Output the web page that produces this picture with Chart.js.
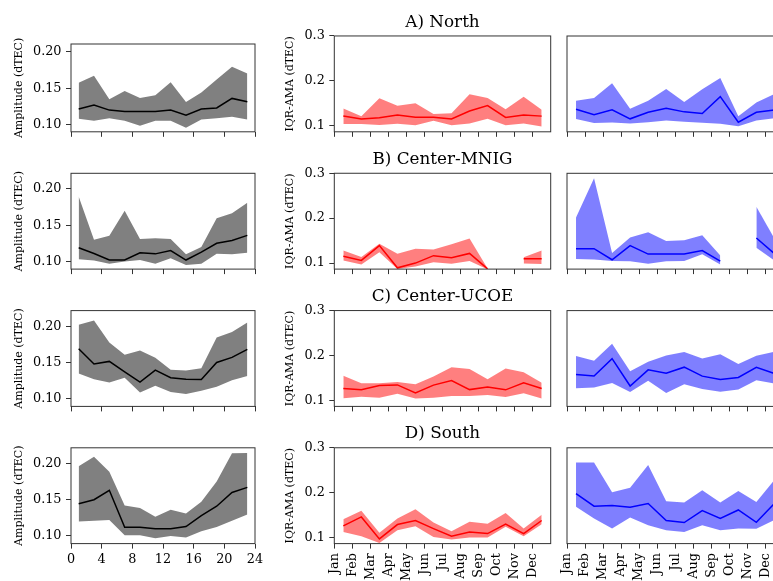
<!DOCTYPE html>
<html>
<head>
<meta charset="utf-8">
<title>Amplitude / IQR-AMA by region</title>
<script src="https://cdn.jsdelivr.net/npm/chart.js@4.4.0/dist/chart.umd.min.js"></script>
<style>
html, body { margin: 0; padding: 0; background: #fff; overflow: hidden; }
#fig { position: relative; width: 773px; height: 581px; overflow: hidden; }
#fig canvas { position: absolute; left: 0; top: 0; }
</style>
</head>
<body>
<div id="fig"></div>
<script>
// --- axes / categories ---
const hours = [1, 3, 5, 7, 9, 11, 13, 15, 17, 19, 21, 23];
const hourTicks = [0, 4, 8, 12, 16, 20, 24];
const monthPos = [0.5, 1.5, 2.5, 3.5, 4.5, 5.5, 6.5, 7.5, 8.5, 9.5, 10.5, 11.5];
const monthTicks = [0, 1, 2, 3, 4, 5, 6, 7, 8, 9, 10, 11];
const monthLabels = ['Jan', 'Feb', 'Mar', 'Apr', 'May', 'Jun', 'Jul', 'Aug', 'Sep', 'Oct', 'Nov', 'Dec'];
const ampTicks = [0.10, 0.15, 0.20];
const iqrTicks = [0.1, 0.2, 0.3];
const regionTitles = ['A) North', 'B) Center-MNIG', 'C) Center-UCOE', 'D) South'];

// --- A) North ---
const northAmpMed = [0.1215, 0.127, 0.120, 0.118, 0.118, 0.118, 0.120, 0.113, 0.1215, 0.123, 0.136, 0.1315];
const northAmpLo  = [0.108, 0.1055, 0.109, 0.1055, 0.0985, 0.1055, 0.1055, 0.096, 0.107, 0.109, 0.111, 0.107];
const northAmpHi  = [0.1575, 0.167, 0.135, 0.146, 0.1365, 0.1405, 0.158, 0.131, 0.144, 0.162, 0.1795, 0.170];
const northRedMed = [0.122, 0.115, 0.118, 0.124, 0.119, 0.119, 0.115, 0.133, 0.145, 0.1185, 0.124, 0.1215];
const northRedLo  = [0.104, 0.104, 0.1015, 0.1045, 0.101, 0.111, 0.101, 0.105, 0.1155, 0.101, 0.105, 0.0985];
const northRedHi  = [0.1385, 0.121, 0.1615, 0.1445, 0.150, 0.1265, 0.128, 0.170, 0.162, 0.137, 0.1645, 0.1355];
const northBlueMed = [0.137, 0.1245, 0.1355, 0.1155, 0.130, 0.139, 0.131, 0.1275, 0.165, 0.108, 0.130, 0.135];
const northBlueLo  = [0.115, 0.106, 0.1075, 0.105, 0.108, 0.112, 0.109, 0.1065, 0.1045, 0.099, 0.112, 0.117];
const northBlueHi  = [0.1555, 0.162, 0.195, 0.138, 0.156, 0.182, 0.153, 0.1815, 0.2065, 0.121, 0.152, 0.171];

// --- B) Center-MNIG ---
const mnigAmpMed = [0.119, 0.111, 0.102, 0.102, 0.112, 0.1105, 0.115, 0.102, 0.113, 0.125, 0.129, 0.136];
const mnigAmpLo  = [0.103, 0.1015, 0.097, 0.100, 0.102, 0.097, 0.1045, 0.095, 0.097, 0.1105, 0.110, 0.112];
const mnigAmpHi  = [0.1895, 0.130, 0.1355, 0.170, 0.131, 0.132, 0.131, 0.110, 0.120, 0.1595, 0.1665, 0.181];
const mnigRedMed = [0.115, 0.106, 0.139, 0.0895, 0.100, 0.1165, 0.112, 0.1215, 0.087, null, 0.1095, 0.1095];
const mnigRedLo  = [0.106, 0.097, 0.124, 0.087, 0.0925, 0.102, 0.0985, 0.1045, 0.086, null, 0.099, 0.098];
const mnigRedHi  = [0.128, 0.1135, 0.143, 0.121, 0.132, 0.130, 0.142, 0.1545, 0.088, null, 0.113, 0.128];
const mnigBlueMed = [0.132, 0.132, 0.1075, 0.139, 0.120, 0.120, 0.120, 0.128, 0.1045, null, 0.156, 0.121];
const mnigBlueLo  = [0.109, 0.108, 0.1045, 0.104, 0.0985, 0.104, 0.1045, 0.1195, 0.097, null, 0.134, 0.106];
const mnigBlueHi  = [0.2015, 0.289, 0.1225, 0.157, 0.1685, 0.149, 0.151, 0.162, 0.117, null, 0.2255, 0.155];

// --- C) Center-UCOE ---
const ucoeAmpMed = [0.169, 0.148, 0.1515, 0.137, 0.123, 0.1395, 0.129, 0.127, 0.1265, 0.150, 0.157, 0.168];
const ucoeAmpLo  = [0.135, 0.127, 0.1225, 0.129, 0.1085, 0.118, 0.1095, 0.1065, 0.111, 0.1165, 0.1255, 0.1315];
const ucoeAmpHi  = [0.202, 0.208, 0.1775, 0.1605, 0.1665, 0.1565, 0.140, 0.139, 0.142, 0.1845, 0.192, 0.205];
const ucoeRedMed = [0.1265, 0.1235, 0.133, 0.1345, 0.1165, 0.134, 0.144, 0.124, 0.130, 0.1235, 0.139, 0.1265];
const ucoeRedLo  = [0.1045, 0.108, 0.106, 0.115, 0.104, 0.106, 0.110, 0.110, 0.112, 0.1075, 0.116, 0.104];
const ucoeRedHi  = [0.155, 0.138, 0.138, 0.141, 0.136, 0.153, 0.174, 0.170, 0.147, 0.171, 0.1625, 0.139];
const ucoeBlueMed = [0.1575, 0.1545, 0.193, 0.132, 0.168, 0.1605, 0.174, 0.154, 0.1465, 0.151, 0.1735, 0.160];
const ucoeBlueLo  = [0.127, 0.1285, 0.139, 0.1185, 0.1435, 0.1165, 0.136, 0.1255, 0.1195, 0.124, 0.145, 0.1375];
const ucoeBlueHi  = [0.199, 0.1885, 0.226, 0.165, 0.186, 0.200, 0.208, 0.1935, 0.2025, 0.181, 0.1995, 0.2085];

// --- D) South ---
const southAmpMed = [0.1445, 0.150, 0.163, 0.112, 0.112, 0.110, 0.110, 0.113, 0.128, 0.141, 0.160, 0.167];
const southAmpLo  = [0.120, 0.121, 0.122, 0.101, 0.101, 0.097, 0.100, 0.098, 0.1065, 0.1125, 0.121, 0.1295];
const southAmpHi  = [0.196, 0.209, 0.1885, 0.142, 0.1385, 0.1265, 0.136, 0.131, 0.147, 0.175, 0.214, 0.2145];
const southRedMed = [0.126, 0.146, 0.097, 0.129, 0.138, 0.120, 0.103, 0.1125, 0.109, 0.130, 0.109, 0.138];
const southRedLo  = [0.1125, 0.103, 0.088, 0.1165, 0.125, 0.1015, 0.0955, 0.100, 0.100, 0.124, 0.103, 0.1295];
const southRedHi  = [0.141, 0.1595, 0.1105, 0.1425, 0.163, 0.1335, 0.114, 0.135, 0.131, 0.155, 0.120, 0.151];
const southBlueMed = [0.198, 0.170, 0.1715, 0.1675, 0.176, 0.138, 0.1335, 0.160, 0.1425, 0.1615, 0.134, 0.176];
const southBlueLo  = [0.1685, 0.1425, 0.120, 0.1445, 0.1275, 0.1165, 0.1125, 0.1275, 0.1165, 0.120, 0.1195, 0.139];
const southBlueHi  = [0.267, 0.267, 0.201, 0.211, 0.2615, 0.181, 0.178, 0.2055, 0.178, 0.2035, 0.1795, 0.228];

const rows = [
  { amp: [northAmpMed, northAmpLo, northAmpHi], red: [northRedMed, northRedLo, northRedHi], blue: [northBlueMed, northBlueLo, northBlueHi] },
  { amp: [mnigAmpMed, mnigAmpLo, mnigAmpHi], red: [mnigRedMed, mnigRedLo, mnigRedHi], blue: [mnigBlueMed, mnigBlueLo, mnigBlueHi] },
  { amp: [ucoeAmpMed, ucoeAmpLo, ucoeAmpHi], red: [ucoeRedMed, ucoeRedLo, ucoeRedHi], blue: [ucoeBlueMed, ucoeBlueLo, ucoeBlueHi] },
  { amp: [southAmpMed, southAmpLo, southAmpHi], red: [southRedMed, southRedLo, southRedHi], blue: [southBlueMed, southBlueLo, southBlueHi] }
];

// --- layout ---
Chart.defaults.font.family = '"DejaVu Serif", "Liberation Serif", serif';
Chart.defaults.color = '#000';

const CW = 800, CH = 620;
const rowTop = [36, 173.3, 310.6, 447.8];
const rowH = 95.8;
const TICK_FONT = 12.8;

// box around each plot area (matplotlib-style spines)
const framePlugin = {
  id: 'frame',
  afterDatasetsDraw(chart) {
    const { ctx, chartArea: a } = chart;
    ctx.save();
    ctx.strokeStyle = '#333';
    ctx.lineWidth = 1;
    ctx.strokeRect(a.left, a.top, a.right - a.left, a.bottom - a.top);
    ctx.restore();
  }
};

const pts = (xs, ys) => xs.map((x, i) => ({ x: x, y: ys[i] }));

function addPanel(p) {
  const cv = document.createElement('canvas');
  cv.width = CW;
  cv.height = CH;
  document.getElementById('fig').appendChild(cv);

  const y1 = p.top + p.height;
  const xH = p.bottomRow ? 50 : 6;
  const padding = {
    left: p.x0 - p.yW,
    right: CW - p.x1,
    top: p.title ? p.top - 23.8 : p.top,
    bottom: CH - y1 - xH
  };

  new Chart(cv, {
    type: 'line',
    data: {
      datasets: [
        { data: pts(p.xs, p.series[0]), borderColor: p.line, borderWidth: 1.5, pointRadius: 0, fill: false },
        { data: pts(p.xs, p.series[2]), borderColor: 'transparent', borderWidth: 0, pointRadius: 0, backgroundColor: p.band, fill: '+1' },
        { data: pts(p.xs, p.series[1]), borderColor: 'transparent', borderWidth: 0, pointRadius: 0, fill: false }
      ]
    },
    options: {
      responsive: false,
      devicePixelRatio: 1,
      animation: false,
      events: [],
      layout: { padding: padding },
      plugins: {
        legend: { display: false },
        tooltip: { enabled: false },
        title: {
          display: !!p.title,
          text: p.title || '',
          fullSize: false,
          font: { size: 16.8, weight: 'normal' },
          padding: { top: 0, bottom: 3.6 }
        }
      },
      scales: {
        x: {
          type: 'linear',
          min: p.xMin,
          max: p.xMax,
          afterBuildTicks: s => { s.ticks = p.xTicks.map(v => ({ value: v })); },
          afterFit: s => { s.height = xH; },
          grid: { drawOnChartArea: false, drawTicks: true, tickLength: 5, color: '#333', tickWidth: 1 },
          border: { display: false },
          ticks: {
            autoSkip: false,
            minRotation: p.rot,
            maxRotation: p.rot,
            padding: p.rot ? 4.5 : 3.5,
            font: { size: TICK_FONT },
            callback: (v, i) => p.bottomRow ? p.xLabels[i] : ''
          }
        },
        y: {
          type: 'linear',
          min: p.yMin,
          max: p.yMax,
          afterBuildTicks: s => { s.ticks = p.yTicks.map(v => ({ value: v })); },
          afterFit: s => { s.width = p.yW; },
          grid: { display: p.yW > 0, drawOnChartArea: false, drawTicks: true, tickLength: 5, color: '#333', tickWidth: 1 },
          border: { display: false },
          ticks: {
            display: p.yW > 0,
            padding: 4.5,
            font: { size: TICK_FONT },
            callback: v => v.toFixed(p.yDec)
          },
          title: {
            display: !!p.yTitle,
            text: p.yTitle || '',
            font: { size: 11 },
            padding: { top: p.yTitlePad || 0, bottom: 0 }
          }
        }
      }
    },
    plugins: [framePlugin]
  });
}

rows.forEach((r, i) => {
  const bottomRow = i === rows.length - 1;
  // left: hourly amplitude
  addPanel({
    x0: 71, x1: 255, yW: 63, yTitlePad: 4.2,
    top: i === 0 ? 44 : rowTop[i],
    height: i === 0 ? rowH - 8 : rowH,
    xs: hours, xMin: 0, xMax: 24, xTicks: hourTicks, xLabels: hourTicks.map(String), rot: 0,
    yMin: i === 0 ? 0.0903 : 0.0895, yMax: i === 0 ? 0.2105 : 0.2215, yTicks: ampTicks, yDec: 2,
    yTitle: 'Amplitude (dTEC)',
    series: r.amp, line: '#000000', band: '#808080',
    bottomRow: bottomRow
  });
  // middle: monthly IQR-AMA (red)
  addPanel({
    x0: 334.3, x1: 550.7, yW: 52, yTitlePad: 0.9,
    top: rowTop[i], height: rowH,
    xs: monthPos, xMin: 0, xMax: 12, xTicks: monthTicks, xLabels: monthLabels, rot: 90,
    yMin: 0.0866, yMax: 0.3, yTicks: iqrTicks, yDec: 1,
    yTitle: 'IQR-AMA (dTEC)', title: regionTitles[i],
    series: r.red, line: '#ff0000', band: 'rgba(255,0,0,0.5)',
    bottomRow: bottomRow
  });
  // right: monthly IQR-AMA (blue)
  addPanel({
    x0: 567, x1: 783.4, yW: 0,
    top: rowTop[i], height: rowH,
    xs: monthPos, xMin: 0, xMax: 12, xTicks: monthTicks, xLabels: monthLabels, rot: 90,
    yMin: 0.0866, yMax: 0.3, yTicks: iqrTicks, yDec: 1,
    series: r.blue, line: '#0000ff', band: 'rgba(0,0,255,0.5)',
    bottomRow: bottomRow
  });
});
</script>
</body>
</html>
